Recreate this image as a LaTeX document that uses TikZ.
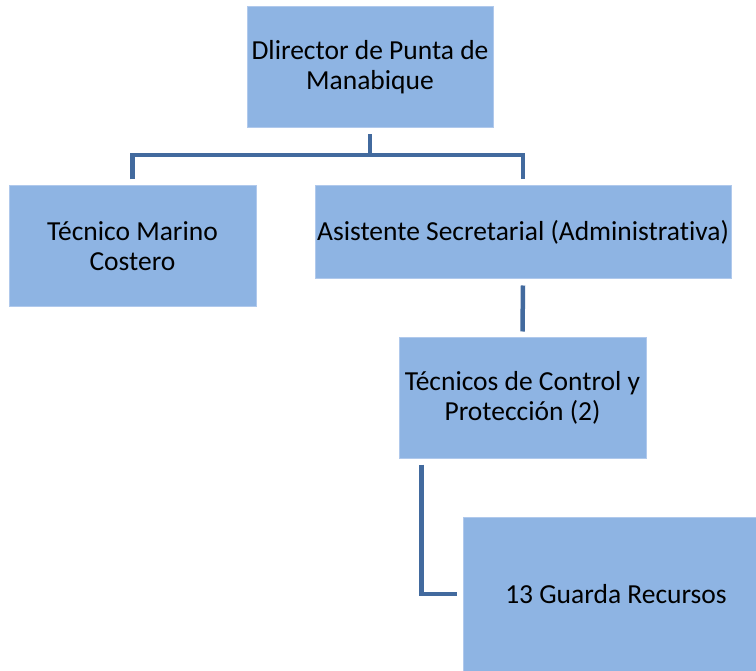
\documentclass[tikz,border=0pt]{standalone}
\usepackage{fontspec}
\setmainfont{Carlito}[Ligatures=NoCommon]
\usetikzlibrary{calc}
\definecolor{boxblue}{RGB}{142,180,227}
\definecolor{boxedge}{RGB}{176,201,236}
\definecolor{linkblue}{RGB}{66,106,158}

\begin{document}
\begin{tikzpicture}[x=1pt, y=-1pt,
	orgbox/.style={fill=boxblue, draw=boxedge, line width=1pt, align=center, inner sep=0pt,
		font=\fontsize{27.5}{30}\selectfont},
	link/.style={draw=linkblue, line width=4.5pt, line join=miter}]
			%%%%% START %%%%%
			
			\useasboundingbox (0, 0) rectangle (756, 671);
			
			\node[orgbox, minimum width=246, minimum height=121] (dir) at (370, 67.5) {Dlirector de Punta de\\Manabique};
			\node[orgbox, minimum width=247, minimum height=121] (tmc) at (132.5, 246.5) {Técnico Marino\\Costero};
			\node[orgbox, minimum width=416, minimum height=93] (asis) at (523, 232.5) {Asistente Secretarial (Administrativa)};
			\node[orgbox, minimum width=247, minimum height=120] (tcp) at (522.5, 398) {Técnicos de Control y\\Protección (2)};
			\node[orgbox, minimum width=306, minimum height=154] (gr) at (616, 594) {13 Guarda Recursos};
			
			\coordinate (split) at (370, 155);
			
			\draw[link] ($(dir.south)+(0, 6)$) -- (split);
			\draw[link] ($(tmc.north)+(0, -6)$) |- (split) -| ($(asis.north)+(0, -6)$);
			\draw[link] ($(asis.south)+(0, 6)$) -- ($(tcp.north)+(0, -6)$);
			\draw[link] ($(tcp.south west)+(23, 6)$) |- ($(gr.west)+(-6, 0)$);
			
			%%%%% END %%%%%
		\end{tikzpicture}
\end{document}
